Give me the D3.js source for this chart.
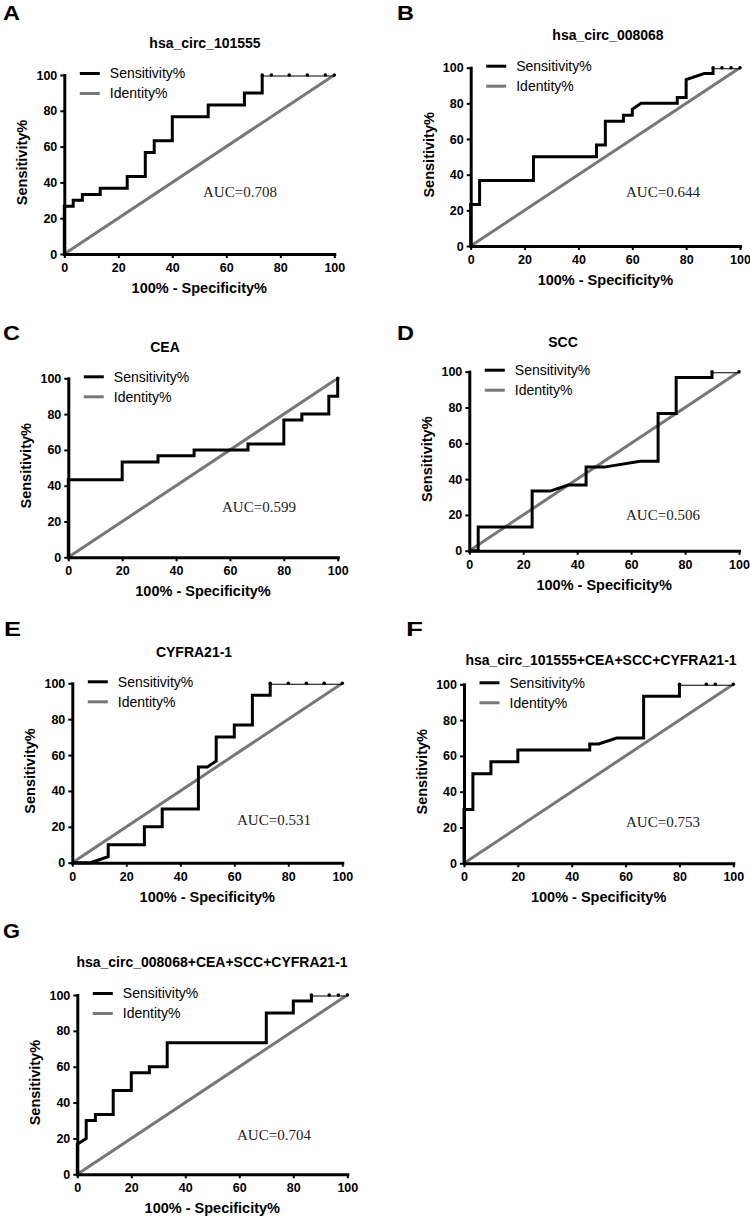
<!DOCTYPE html>
<html>
<head>
<meta charset="UTF-8">
<script src="https://d3js.org/d3.v7.min.js"></script>
<style>
  body { margin: 0; background: #fff; }
  svg { display: block; font-family: "Liberation Sans", Arial, sans-serif; }
</style>
</head>
<body>
<svg width="750" height="1217"></svg>
<script>
const letters = ["A", "B", "C", "D", "E", "F", "G"];
const titles = ["hsa_circ_101555", "hsa_circ_008068", "CEA", "SCC", "CYFRA21-1",
  "hsa_circ_101555+CEA+SCC+CYFRA21-1", "hsa_circ_008068+CEA+SCC+CYFRA21-1"];
const aucLabels = ["AUC=0.708", "AUC=0.644", "AUC=0.599", "AUC=0.506", "AUC=0.531", "AUC=0.753", "AUC=0.704"];
const ticks = [0, 20, 40, 60, 80, 100];
const legendNames = ["Sensitivity%", "Identity%"];

// [100% - specificity%, sensitivity%]
const roc101555 = [[0,0],[0,26.7],[3.3,26.7],[3.3,30],[6.7,30],[6.7,33.3],[13.3,33.3],[13.3,36.7],[23.3,36.7],[23.3,43.3],[30,43.3],[30,56.7],[33.3,56.7],[33.3,63.3],[40,63.3],[40,76.7],[53.3,76.7],[53.3,83.3],[66.7,83.3],[66.7,90],[73.3,90],[73.3,100],[76.7,100],[83.3,100],[90,100],[96.7,100],[100,100]];
const roc008068 = [[0,0],[0,23.3],[3.3,23.3],[3.3,36.7],[23.3,36.7],[23.3,50],[46.7,50],[46.7,56.7],[50,56.7],[50,70],[56.7,70],[56.7,73.3],[60,73.3],[60,76.7],[63.3,80],[76.7,80],[76.7,83.3],[80,83.3],[80,93.3],[86.7,96.7],[90,96.7],[90,100],[93.3,100],[96.7,100],[100,100]];
const rocCEA = [[0,0],[0,43.3],[20,43.3],[20,53.3],[33.3,53.3],[33.3,56.7],[46.7,56.7],[46.7,60],[66.7,60],[66.7,63.3],[80,63.3],[80,76.7],[86.7,76.7],[86.7,80],[96.7,80],[96.7,90],[100,90],[100,100]];
const rocSCC = [[0,0],[3.3,0],[3.3,13.3],[23.3,13.3],[23.3,33.3],[30,33.3],[36.7,36.7],[43.3,36.7],[43.3,46.7],[50,46.7],[63.3,50],[70,50],[70,76.7],[76.7,76.7],[76.7,96.7],[90,96.7],[90,100],[100,100]];
const rocCYFRA = [[0,0],[6.7,0],[13.3,3.3],[13.3,10],[26.7,10],[26.7,20],[33.3,20],[33.3,30],[46.7,30],[46.7,53.3],[50,53.3],[53.3,56.7],[53.3,70],[60,70],[60,76.7],[66.7,76.7],[66.7,93.3],[73.3,93.3],[73.3,100],[80,100],[86.7,100],[93.3,100],[100,100]];
const roc101555Combo = [[0,0],[0,30],[3.3,30],[3.3,50],[10,50],[10,56.7],[20,56.7],[20,63.3],[46.7,63.3],[46.7,66.7],[50,66.7],[56.7,70],[66.7,70],[66.7,93.3],[80,93.3],[80,100],[90,100],[93.3,100],[100,100]];
const roc008068Combo = [[0,0],[0,16.7],[3.3,20],[3.3,30],[6.7,30],[6.7,33.3],[13.3,33.3],[13.3,46.7],[20,46.7],[20,56.7],[26.7,56.7],[26.7,60],[33.3,60],[33.3,73.3],[70,73.3],[70,90],[80,90],[80,96.7],[86.7,96.7],[86.7,100],[93.3,100],[96.7,100],[100,100]];
const identityLine = [[0,0],[100,100]];

const curves = [roc101555, roc008068, rocCEA, rocSCC, rocCYFRA, roc101555Combo, roc008068Combo];

// pixel placement of each panel (plot box, title, panel letter, AUC note)
const layout = [
  {x0: 64.3,  x1: 334.3, top: 75,    bot: 254,    tx: 205, ty: 48,   lx: 3,   ly: 20,   ax: 203, ay: 197},
  {x0: 470.7, x1: 740,   top: 67.7,  bot: 246,    tx: 608, ty: 40,   lx: 397, ly: 20,   ax: 626, ay: 197},
  {x0: 68.3,  x1: 337.7, top: 378.3, bot: 557.3,  tx: 165, ty: 352,  lx: 3,   ly: 340,  ax: 222, ay: 512},
  {x0: 469.3, x1: 739,   top: 371.7, bot: 550.7,  tx: 563, ty: 347,  lx: 397, ly: 340,  ax: 626, ay: 520},
  {x0: 72.3,  x1: 342.3, top: 683.3, bot: 862.7,  tx: 194, ty: 657,  lx: 4,   ly: 636,  ax: 237, ay: 825},
  {x0: 464,   x1: 733.3, top: 684.3, bot: 863.3,  tx: 601, ty: 665,  lx: 406, ly: 636,  ax: 626, ay: 827},
  {x0: 77.3,  x1: 347.3, top: 995,   bot: 1174.3, tx: 212, ty: 967,  lx: 3,   ly: 938,  ax: 237, ay: 1140}
];

const svg = d3.select("svg");
const defs = svg.append("defs");

curves.forEach((pts, i) => {
  const L = layout[i];
  const x = d3.scaleLinear().domain([0, 100]).range([L.x0, L.x1]);
  const y = d3.scaleLinear().domain([0, 100]).range([L.bot, L.top]);
  const g = svg.append("g");

  g.append("text").attr("x", L.lx).attr("y", L.ly)
    .attr("font-size", 20).attr("font-weight", "bold")
    .attr("textLength", 17).attr("lengthAdjust", "spacingAndGlyphs").text(letters[i]);
  g.append("text").attr("x", L.tx).attr("y", L.ty).attr("text-anchor", "middle")
    .attr("font-size", 14).attr("font-weight", "bold").text(titles[i]);

  defs.append("clipPath").attr("id", "clip" + i)
    .append("rect").attr("x", L.x0 - 6).attr("y", L.top + 0.5)
    .attr("width", L.x1 - L.x0 + 12).attr("height", L.bot - L.top + 6);

  const line = d3.line().x(d => x(d[0])).y(d => y(d[1]));

  g.append("path").datum(identityLine).attr("d", line)
    .attr("fill", "none").attr("stroke", "#777").attr("stroke-width", 3)
    .attr("clip-path", `url(#clip${i})`);
  g.append("path").datum(pts).attr("d", line)
    .attr("fill", "none").attr("stroke", "#000").attr("stroke-width", 3)
    .attr("stroke-linejoin", "miter").attr("clip-path", `url(#clip${i})`);

  // points on the 100% ceiling show as small dots on a thin line
  g.selectAll("circle").data(pts.filter(d => d[1] === 100)).join("circle")
    .attr("cx", d => x(d[0])).attr("cy", d => y(d[1])).attr("r", 1.8).attr("fill", "#000");

  const xAxis = g.append("g").attr("transform", `translate(0,${L.bot})`)
    .call(d3.axisBottom(x).tickValues(ticks).tickSize(4).tickSizeOuter(0).tickPadding(5));
  const yAxis = g.append("g").attr("transform", `translate(${L.x0},0)`)
    .call(d3.axisLeft(y).tickValues(ticks).tickSize(4).tickSizeOuter(0).tickPadding(3));
  [xAxis, yAxis].forEach(a => {
    a.attr("font-family", "'Liberation Sans', Arial, sans-serif").attr("font-size", 12.5);
    a.select(".domain").attr("stroke", "#000").attr("stroke-width", 3).attr("stroke-linecap", "square");
    a.selectAll(".tick line").attr("stroke", "#000").attr("stroke-width", 2);
    a.selectAll(".tick text").attr("font-weight", "bold").attr("fill", "#000");
  });

  g.append("text").attr("x", (L.x0 + L.x1) / 2).attr("y", L.bot + 39).attr("text-anchor", "middle")
    .attr("font-size", 14.5).attr("font-weight", "bold").text("100% - Specificity%");
  g.append("text").attr("transform", `translate(${L.x0 - 42},${(L.top + L.bot) / 2 - 2}) rotate(-90)`)
    .attr("dy", "0.35em").attr("text-anchor", "middle")
    .attr("font-size", 14.5).attr("font-weight", "bold").text("Sensitivity%");

  const leg = g.append("g").selectAll("g").data(legendNames).join("g")
    .attr("transform", (d, k) => `translate(${L.x0 + 15.5},${L.top - 1.5 + k * 20})`);
  leg.append("line").attr("x1", 0).attr("x2", 20)
    .attr("stroke", (d, k) => k === 0 ? "#000" : "#777").attr("stroke-width", 3);
  leg.append("text").attr("x", 30).attr("dy", "0.35em").attr("font-size", 14).text(d => d);

  g.append("text").attr("x", L.ax).attr("y", L.ay)
    .attr("font-family", "'Liberation Serif', 'Times New Roman', serif")
    .attr("font-size", 15).attr("fill", "#222").text(aucLabels[i]);
});
</script>
</body>
</html>
